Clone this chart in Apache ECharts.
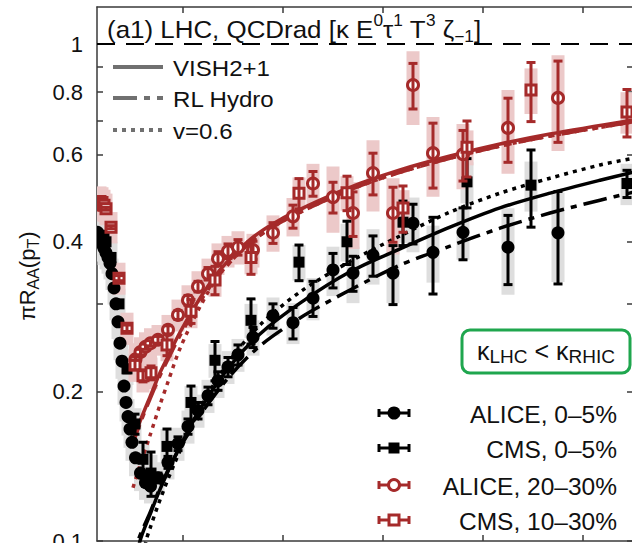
<!DOCTYPE html>
<html>
<head>
<meta charset="utf-8">
<title>R_AA at the LHC</title>
<script src="https://cdn.jsdelivr.net/npm/echarts@6.0.0/dist/echarts.min.js"></script>
<style>
html, body { margin: 0; padding: 0; background: #fff; }
#chart { width: 632px; height: 543px; }
</style>
</head>
<body>
<div id="chart"></div>
<script>
// ---------------- measured data: pT bin centre (GeV), value, stat., syst. ----------------
const aliceCentralPt   = [1.45,1.55,1.65,1.75,1.85,1.95,2.1,2.3,2.5,2.7,2.9,3.1,3.3,3.5,3.7,3.9,4.1,4.3,4.5,4.7,4.9,5.25,5.75,6.25,6.75,7.5,8.5,9.5,10.5,11.5,12.5,13.5,14.5,15.5,17,19,21,23,25,27,29,31,33,35,38,42.5,47.5];
const aliceCentralVal  = [0.418,0.414,0.410,0.405,0.400,0.395,0.388,0.380,0.372,0.362,0.345,0.323,0.300,0.276,0.250,0.230,0.205,0.190,0.178,0.168,0.158,0.147,0.137,0.131,0.129,0.134,0.144,0.157,0.170,0.183,0.196,0.210,0.224,0.237,0.257,0.284,0.275,0.308,0.351,0.346,0.376,0.346,0.436,0.381,0.418,0.390,0.417];
const aliceCentralStat = [0.002,0.002,0.002,0.002,0.002,0.002,0.002,0.002,0.002,0.002,0.002,0.002,0.002,0.002,0.002,0.002,0.002,0.002,0.002,0.002,0.002,0.002,0.002,0.002,0.002,0.003,0.004,0.005,0.006,0.007,0.008,0.009,0.010,0.011,0.012,0.016,0.020,0.025,0.028,0.028,0.035,0.047,0.040,0.067,0.050,0.062,0.088];
const aliceCentralSys  = [0.032,0.032,0.031,0.031,0.030,0.030,0.029,0.028,0.027,0.026,0.025,0.024,0.022,0.021,0.019,0.018,0.017,0.016,0.015,0.014,0.013,0.012,0.011,0.010,0.010,0.010,0.011,0.012,0.013,0.014,0.015,0.016,0.017,0.018,0.021,0.025,0.026,0.030,0.040,0.045,0.048,0.045,0.055,0.050,0.050,0.077,0.085];

const cmsCentralPt   = [1.5,1.7,1.9,2.1,2.3,2.8,3.6,4.4,5.2,6.0,6.8,8.4,10.8,13.2,16.8,21.6,26.4,32.0,38.4,44.8,54.4];
const cmsCentralVal  = [0.405,0.412,0.412,0.408,0.400,0.372,0.300,0.222,0.172,0.146,0.137,0.155,0.190,0.231,0.278,0.364,0.400,0.438,0.528,0.520,0.524];
const cmsCentralStat = [0.002,0.002,0.002,0.002,0.002,0.002,0.003,0.004,0.008,0.012,0.014,0.013,0.015,0.021,0.029,0.030,0.040,0.045,0.060,0.092,0.033];
const cmsCentralSys  = [0.030,0.030,0.030,0.030,0.030,0.028,0.022,0.016,0.013,0.012,0.012,0.013,0.015,0.018,0.022,0.030,0.035,0.040,0.050,0.060,0.050];

const alicePeriphPt   = [5.25,5.75,6.25,6.75,7.5,8.5,9.5,10.5,11.5,12.5,13.5,14.5,15.5,17,19,21,23,25,27,29,31,33,35,38,42.5,47.5];
const alicePeriphVal  = [0.232,0.240,0.246,0.250,0.254,0.266,0.285,0.305,0.325,0.345,0.370,0.383,0.390,0.385,0.417,0.450,0.524,0.492,0.457,0.550,0.457,0.827,0.603,0.600,0.678,0.779];
const alicePeriphStat = [0.003,0.003,0.003,0.003,0.004,0.005,0.006,0.007,0.008,0.010,0.012,0.013,0.014,0.016,0.020,0.024,0.030,0.035,0.047,0.053,0.058,0.087,0.090,0.070,0.100,0.145];
const alicePeriphSys  = [0.018,0.017,0.017,0.018,0.018,0.019,0.021,0.022,0.024,0.025,0.027,0.028,0.030,0.030,0.035,0.040,0.050,0.075,0.070,0.090,0.080,0.140,0.110,0.090,0.130,0.170];

const cmsPeriphPt   = [1.5,1.7,1.9,2.1,2.3,2.8,3.6,4.4,5.2,6.0,6.8,8.4,10.8,13.2,16.8,21.6,26.4,32.0,38.4,44.8,54.4];
const cmsPeriphVal  = [0.475,0.482,0.480,0.474,0.466,0.428,0.338,0.268,0.226,0.215,0.218,0.248,0.290,0.335,0.372,0.501,0.502,0.468,0.620,0.808,0.730];
const cmsPeriphStat = [0.003,0.003,0.003,0.003,0.003,0.003,0.004,0.004,0.005,0.006,0.007,0.012,0.016,0.022,0.028,0.035,0.040,0.050,0.080,0.110,0.080];
const cmsPeriphSys  = [0.035,0.035,0.035,0.035,0.034,0.031,0.025,0.020,0.017,0.016,0.016,0.018,0.022,0.025,0.028,0.038,0.040,0.040,0.050,0.085,0.070];

// ---------------- model curves ----------------
const vishCentralPt  = [5.2,5.7,6.7,7.7,9.2,11.7,14.7,17.7,21.7,26.7,31.7,36.7,41.7,46.7,51.7,55.0];
const vishCentralVal = [0.088,0.100,0.113,0.127,0.148,0.184,0.225,0.261,0.301,0.348,0.387,0.428,0.468,0.501,0.532,0.552];
const rlCentralPt    = [5.0,5.5,6.7,7.7,9.2,11.7,14.7,17.7,21.7,26.7,31.7,36.7,41.7,46.7,51.7,55.0];
const rlCentralVal   = [0.088,0.100,0.114,0.128,0.148,0.179,0.215,0.247,0.281,0.320,0.359,0.392,0.426,0.457,0.485,0.503];
const v06CentralPt   = [5.9,6.3,6.7,7.7,9.2,11.7,14.7,17.7,21.7,26.7,31.7,36.7,41.7,46.7,51.7,55.0];
const v06CentralVal  = [0.090,0.100,0.106,0.121,0.144,0.185,0.231,0.272,0.317,0.365,0.411,0.459,0.501,0.537,0.571,0.589];

const vishPeriphPt   = [4.85,5.7,6.7,7.7,8.4,9.7,11.7,13.7,16.7,19.7,23.7,27.7,31.7,36.7,41.7,46.7,55.0];
const vishPeriphVal  = [0.156,0.174,0.195,0.218,0.233,0.263,0.308,0.351,0.404,0.443,0.485,0.524,0.558,0.595,0.629,0.659,0.703];
const rlPeriphPt     = [4.85,5.7,6.7,7.7,8.4,9.7,11.7,13.7,16.7,19.7,23.7,27.7,31.7,36.7,41.7,46.7,55.0];
const rlPeriphVal    = [0.154,0.172,0.193,0.215,0.230,0.259,0.303,0.345,0.398,0.437,0.479,0.518,0.552,0.589,0.623,0.653,0.697];
const v06PeriphPt    = [5.0,5.7,6.7,7.7,8.5,9.7,11.7,13.7,16.7,19.7,23.7,27.7,31.7,36.7,41.7,46.7,55.0];
const v06PeriphVal   = [0.128,0.142,0.163,0.188,0.209,0.244,0.296,0.345,0.398,0.437,0.479,0.518,0.552,0.589,0.623,0.653,0.697];

// ---------------- axes ----------------
const yLabelValues = [0.1, 0.2, 0.4, 0.6, 0.8, 1];
const yTickValues  = [0.1, 0.2, 0.3, 0.4, 0.5, 0.6, 0.7, 0.8, 0.9, 1];
const xTickValues  = [10, 20, 30, 40, 50];
const X_MIN = 1.4, X_MAX = 55.0, Y_MIN = 0.1, Y_MAX = 1.187;

const FONT = '"Liberation Sans", Arial, Helvetica, sans-serif';
const RED = '#a52a2a';
const PINK = '#ecc9c9';
const GREY = '#dedede';
const INK = '#111';
const AXIS = '#3a3a3a';
const KEY = '#707070';
const DASHDOT = [24, 7, 6, 7];
const DOTTED = [4, 5];

function errorBoxes(pt, val, sys, fill, z) {
  return {
    type: 'custom', z, clip: true, silent: true,
    data: pt.map((p, i) => [p, val[i], sys[i]]),
    renderItem(params, api) {
      const p = api.value(0), v = api.value(1), s = api.value(2);
      const top = api.coord([p, v + s]);
      const bot = api.coord([p, Math.max(v - s, 0.02)]);
      const w = 13;
      return { type: 'rect', shape: { x: top[0] - w / 2, y: top[1], width: w, height: bot[1] - top[1] }, style: { fill } };
    }
  };
}

function markerShape(kind, cx, cy, color) {
  switch (kind) {
    case 'disc':  return { type: 'circle', shape: { cx, cy, r: 6.5 }, style: { fill: color } };
    case 'block': return { type: 'rect', shape: { x: cx - 5.5, y: cy - 5.5, width: 11, height: 11 }, style: { fill: color } };
    case 'ring':  return { type: 'circle', shape: { cx, cy, r: 5.5 }, style: { fill: '#fff', stroke: color, lineWidth: 3 } };
    default:      return { type: 'rect', shape: { x: cx - 5, y: cy - 5, width: 10, height: 10 }, style: { fill: '#fff', stroke: color, lineWidth: 3 } };
  }
}

function errorPoints(pt, val, stat, kind, color, z) {
  return {
    type: 'custom', z, clip: true, silent: true,
    data: pt.map((p, i) => [p, val[i], stat[i]]),
    renderItem(params, api) {
      const p = api.value(0), v = api.value(1), e = api.value(2);
      const c = api.coord([p, v]);
      const hi = api.coord([p, v + e])[1];
      const lo = api.coord([p, v - e])[1];
      const cap = 4.5, lw = 3;
      const st = { stroke: color, lineWidth: lw };
      const bar = [
        { type: 'line', shape: { x1: c[0], y1: hi, x2: c[0], y2: lo }, style: st },
        { type: 'line', shape: { x1: c[0] - cap, y1: hi, x2: c[0] + cap, y2: hi }, style: st },
        { type: 'line', shape: { x1: c[0] - cap, y1: lo, x2: c[0] + cap, y2: lo }, style: st }
      ];
      const m = markerShape(kind, c[0], c[1], color);
      const open = kind === 'ring' || kind === 'frame';
      return { type: 'group', children: open ? [m].concat(bar) : bar.concat([m]) };
    }
  };
}

function curve(pt, val, color, dash, z) {
  return {
    type: 'line', z, silent: true, clip: true, smooth: 0.3,
    symbol: 'none', showSymbol: false,
    data: pt.map((p, i) => [p, val[i]]),
    lineStyle: { color, width: 3.5, type: dash, cap: 'butt' }
  };
}

function xAxisDef(position) {
  return {
    type: 'value', position, min: X_MIN, max: X_MAX,
    axisLine: { show: true, onZero: false, lineStyle: { color: AXIS, width: 1.5 } },
    axisTick: { show: true, inside: true, length: 6, customValues: xTickValues, lineStyle: { color: AXIS, width: 1.5 } },
    axisLabel: { show: false },
    splitLine: { show: false }
  };
}

function yAxisDef(position, labels) {
  return {
    type: 'log', logBase: 10, position, min: Y_MIN, max: Y_MAX,
    axisLine: { show: true, onZero: false, lineStyle: { color: AXIS, width: 1.5 } },
    axisTick: { show: true, inside: true, length: 6, customValues: yTickValues, lineStyle: { color: AXIS, width: 1.5 } },
    axisLabel: labels ? {
      show: true, customValues: yLabelValues, margin: 14,
      fontFamily: FONT, fontSize: 22, color: INK,
      formatter: v => String(Math.round(v * 10) / 10)
    } : { show: false },
    splitLine: { show: false },
    minorTick: { show: false }
  };
}

const series = [
  errorBoxes(aliceCentralPt, aliceCentralVal, aliceCentralSys, GREY, 1),
  errorBoxes(cmsCentralPt, cmsCentralVal, cmsCentralSys, GREY, 1),
  errorBoxes(alicePeriphPt, alicePeriphVal, alicePeriphSys, PINK, 2),
  errorBoxes(cmsPeriphPt, cmsPeriphVal, cmsPeriphSys, PINK, 2),
  Object.assign(curve(vishCentralPt, vishCentralVal, '#000', 'solid', 3), {
    markLine: {
      silent: true, symbol: 'none', label: { show: false },
      lineStyle: { color: '#000', type: [18, 11], width: 2 },
      data: [{ yAxis: 1 }]
    }
  }),
  curve(rlCentralPt, rlCentralVal, '#000', DASHDOT, 3),
  curve(v06CentralPt, v06CentralVal, '#000', DOTTED, 3),
  curve(vishPeriphPt, vishPeriphVal, RED, 'solid', 3),
  curve(rlPeriphPt, rlPeriphVal, RED, DASHDOT, 3),
  curve(v06PeriphPt, v06PeriphVal, RED, DOTTED, 3),
  errorPoints(aliceCentralPt, aliceCentralVal, aliceCentralStat, 'disc', '#000', 4),
  errorPoints(cmsCentralPt, cmsCentralVal, cmsCentralStat, 'block', '#000', 4),
  errorPoints(alicePeriphPt, alicePeriphVal, alicePeriphStat, 'ring', RED, 5),
  errorPoints(cmsPeriphPt, cmsPeriphVal, cmsPeriphStat, 'frame', RED, 5)
];

// ---------------- key and annotations ----------------
const graphics = [];
const txt = (x, y, text, size, extra) => ({
  type: 'text', x, y, z: 20,
  style: Object.assign({ text, fontFamily: FONT, fontSize: size, fill: INK, verticalAlign: 'middle' }, extra || {})
});

// model key (top left)
const modelKey = [
  { y: 67, dash: null, label: 'VISH2+1' },
  { y: 98, dash: DASHDOT, label: 'RL Hydro' },
  { y: 130, dash: DOTTED, label: 'v=0.6' }
];
modelKey.forEach(k => {
  graphics.push({ type: 'line', z: 20, shape: { x1: 113, y1: k.y, x2: 163, y2: k.y },
    style: { stroke: KEY, lineWidth: 4, lineDash: k.dash, lineCap: 'butt' } });
  graphics.push(Object.assign(txt(173, k.y + 1, k.label, 21.5), { scaleX: 1.12 }));
});

// data key (bottom right)
const dataKey = [
  { y: 413, kind: 'disc', color: '#000', label: 'ALICE, 0\u20135%' },
  { y: 448, kind: 'block', color: '#000', label: 'CMS, 0\u20135%' },
  { y: 485, kind: 'ring', color: RED, label: 'ALICE, 20\u201330%' },
  { y: 520, kind: 'frame', color: RED, label: 'CMS, 10\u201330%' }
];
dataKey.forEach(k => {
  const st = { stroke: k.color, lineWidth: 3 };
  graphics.push({ type: 'line', z: 20, shape: { x1: 379, y1: k.y, x2: 409, y2: k.y }, style: st });
  graphics.push({ type: 'line', z: 20, shape: { x1: 379, y1: k.y - 4, x2: 379, y2: k.y + 4 }, style: st });
  graphics.push({ type: 'line', z: 20, shape: { x1: 409, y1: k.y - 4, x2: 409, y2: k.y + 4 }, style: st });
  graphics.push(Object.assign(markerShape(k.kind, 394, k.y, k.color), { z: 21 }));
  graphics.push(txt(617, k.y + 1, k.label, 24.5, { align: 'right' }));
});

// panel title
graphics.push({
  type: 'text', x: 107, y: 29, z: 20, scaleX: 1.08,
  style: {
    text: '{b|(a1) LHC, QCDrad [\u03ba E}{sup|0}{b|\u03c4}{sup|1}{b| T}{sup|3}{b| \u03b6}{sub|\u22121}{b|]}',
    verticalAlign: 'middle',
    rich: {
      b:   { fontFamily: FONT, fontSize: 24, fill: INK, lineHeight: 32 },
      sup: { fontFamily: FONT, fontSize: 16, fill: INK, lineHeight: 14, verticalAlign: 'top' },
      sub: { fontFamily: FONT, fontSize: 16, fill: INK, lineHeight: 20, verticalAlign: 'bottom' }
    }
  }
});

// coupling comparison box
graphics.push({
  type: 'rect', z: 20,
  shape: { x: 462, y: 330, width: 168, height: 43, r: 8 },
  style: { fill: '#fff', stroke: '#1fa64e', lineWidth: 3 }
});
graphics.push({
  type: 'text', x: 546, y: 351, z: 21,
  style: {
    text: '{b|\u03ba}{s|LHC}{b| < \u03ba}{s|RHIC}',
    align: 'center', verticalAlign: 'middle',
    rich: {
      b: { fontFamily: FONT, fontSize: 25, fill: INK, lineHeight: 30 },
      s: { fontFamily: FONT, fontSize: 19, fill: INK, lineHeight: 22, verticalAlign: 'bottom' }
    }
  }
});

// y axis title
graphics.push({
  type: 'text', x: 27, y: 276, z: 20, rotation: Math.PI / 2,
  style: {
    text: '{b|\u03c0R}{s|AA}{b|(p}{s|T}{b|)}',
    align: 'center', verticalAlign: 'middle',
    rich: {
      b: { fontFamily: FONT, fontSize: 22, fill: INK, lineHeight: 28 },
      s: { fontFamily: FONT, fontSize: 16, fill: INK, lineHeight: 20, verticalAlign: 'bottom' }
    }
  }
});

const chart = echarts.init(document.getElementById('chart'), null, { renderer: 'svg', width: 632, height: 543 });
chart.setOption({
  animation: false,
  backgroundColor: '#fff',
  grid: { left: 97, top: 7, right: -1, bottom: 2, containLabel: false, outerBoundsMode: 'none' },
  xAxis: [xAxisDef('bottom'), xAxisDef('top')],
  yAxis: [yAxisDef('left', true), yAxisDef('right', false)],
  series,
  graphic: graphics
});
</script>
</body>
</html>
